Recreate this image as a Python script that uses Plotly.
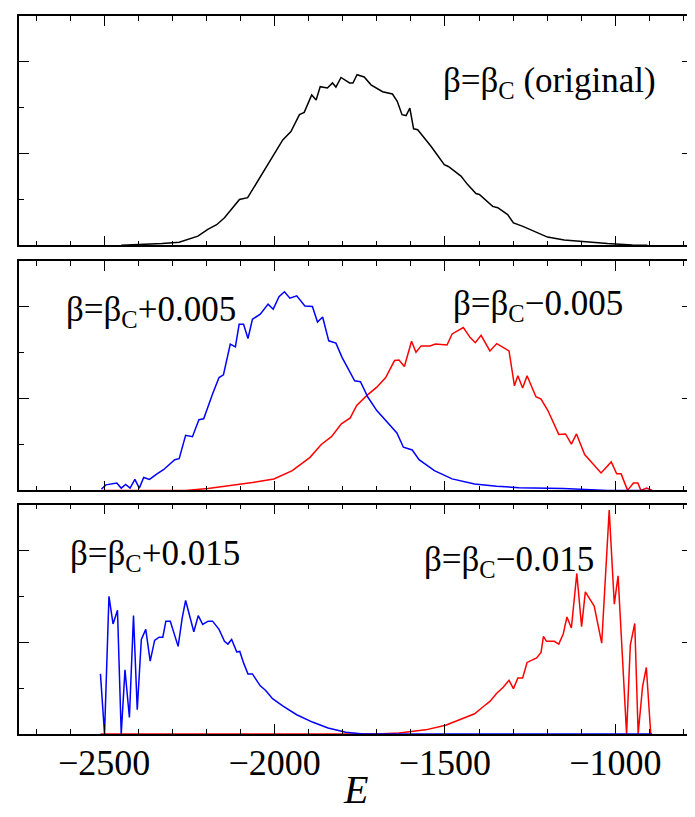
import plotly.graph_objects as go

# ---------------- data ----------------
E_orig = [-2450, -2400, -2330, -2280, -2260, -2225, -2196, -2170, -2147, -2128, -2103, -2079,
          -2050, -2020, -1976, -1952, -1927, -1913, -1891, -1878, -1866, -1845, -1830, -1820,
          -1805, -1780, -1770, -1758, -1737, -1717, -1683, -1654, -1640, -1626, -1614, -1603,
          -1592, -1580, -1541, -1502, -1490, -1453, -1434, -1409, -1399, -1360, -1345, -1316,
          -1299, -1273, -1238, -1199, -1150, -1101, -1023, -950, -906]
P_orig = [0.0, 0.01, 0.04, 0.07, 0.12, 0.2, 0.35, 0.45, 0.6, 0.78, 1.0, 1.04,
          1.4, 1.76, 2.3, 2.48, 2.85, 2.9, 3.28, 3.17, 3.46, 3.43, 3.54, 3.45,
          3.66, 3.54, 3.54, 3.72, 3.67, 3.5, 3.35, 3.3, 3.14, 2.85, 2.83, 2.99,
          2.54, 2.52, 2.16, 1.76, 1.72, 1.51, 1.33, 1.13, 1.11, 0.85, 0.82, 0.67,
          0.49, 0.42, 0.31, 0.18, 0.115, 0.08, 0.04, 0.01, 0.0]

E_p005 = [-2508, -2495, -2463, -2450, -2437, -2424, -2410, -2397, -2384, -2367, -2345, -2326,
          -2293, -2280, -2261, -2241, -2222, -2208, -2182, -2163, -2150, -2130, -2115, -2104,
          -2091, -2078, -2065, -2042, -2019, -2004, -1987, -1971, -1955, -1935, -1911, -1889,
          -1874, -1859, -1841, -1820, -1802, -1765, -1748, -1726, -1700, -1674, -1641, -1622,
          -1596, -1576, -1531, -1479, -1413, -1348, -1283, -1153, -1022, -892]
P_p005 = [0.03, 0.12, 0.16, 0.05, 0.13, 0.05, 0.24, 0.05, 0.28, 0.24, 0.36, 0.45,
          0.67, 0.69, 1.2, 1.17, 1.54, 1.56, 2.1, 2.46, 2.52, 3.19, 3.13, 3.62,
          3.62, 3.31, 3.73, 3.84, 4.06, 3.95, 4.22, 4.33, 4.19, 4.24, 4.02, 4.01,
          3.67, 3.78, 3.26, 3.21, 2.9, 2.39, 2.37, 2.03, 1.74, 1.52, 1.25, 0.94,
          0.88, 0.67, 0.43, 0.25, 0.14, 0.09, 0.06, 0.04, 0.0, 0.0]

E_m005 = [-2508, -2261, -2195, -2130, -2065, -2002, -1948, -1896, -1863, -1833, -1804, -1778,
          -1759, -1729, -1700, -1674, -1648, -1635, -1619, -1598, -1585, -1570, -1544, -1528,
          -1494, -1479, -1472, -1446, -1426, -1411, -1394, -1368, -1348, -1312, -1296, -1286,
          -1272, -1259, -1233, -1218, -1198, -1166, -1146, -1129, -1114, -1090, -1042, -1012,
          -996, -983, -964, -947, -934, -925, -908, -892]
P_m005 = [0.0, 0.0, 0.04, 0.1, 0.17, 0.25, 0.43, 0.72, 1.0, 1.17, 1.45, 1.58,
          1.85, 2.07, 2.25, 2.46, 2.83, 2.84, 2.7, 3.25, 3.01, 3.15, 3.15, 3.19,
          3.17, 3.41, 3.44, 3.55, 3.33, 3.22, 3.38, 3.04, 3.2, 3.04, 2.28, 2.5,
          2.23, 2.5, 2.04, 1.99, 1.74, 1.22, 1.23, 1.01, 1.23, 0.78, 0.38, 0.62,
          0.36, 0.36, 0.0, 0.16, 0.16, 0.0, 0.05, 0.0]

E_p015 = [-2511, -2499, -2486, -2474, -2461, -2450, -2439, -2426, -2414, -2403, -2391, -2378,
          -2365, -2352, -2339, -2328, -2319, -2306, -2283, -2271, -2261, -2237, -2224, -2211,
          -2195, -2182, -2163, -2147, -2137, -2126, -2111, -2102, -2091, -2078, -2065, -2042,
          -2026, -2006, -1974, -1935, -1889, -1843, -1791, -1739, -1700, -892]
P_p015 = [1.31, 0.0, 3.0, 2.4, 2.7, 0.0, 1.4, 0.36, 2.58, 0.53, 2.06, 2.28,
          1.59, 2.04, 2.11, 2.11, 2.46, 2.46, 1.91, 2.53, 2.91, 2.23, 2.58, 2.39,
          2.46, 2.46, 2.28, 2.02, 1.96, 2.06, 1.79, 1.8, 1.55, 1.31, 1.31, 1.05,
          0.95, 0.77, 0.6, 0.42, 0.26, 0.13, 0.04, 0.0, 0.0, 0.0]

E_m015 = [-2511, -1700, -1635, -1557, -1498, -1446, -1413, -1387, -1368, -1348, -1329, -1312,
          -1299, -1286, -1272, -1259, -1244, -1231, -1218, -1211, -1202, -1179, -1166, -1153,
          -1142, -1129, -1113, -1099, -1088, -1062, -1040, -1018, -1003, -992, -967, -956,
          -943, -933, -920, -909, -896]
P_m015 = [0.0, 0.0, 0.02, 0.09, 0.19, 0.35, 0.44, 0.6, 0.71, 0.89, 1.02, 1.17,
          0.99, 1.22, 1.22, 1.56, 1.62, 1.66, 1.78, 2.13, 2.02, 2.02, 1.96, 2.18,
          2.55, 2.31, 3.5, 2.34, 3.1, 2.79, 1.98, 4.88, 2.83, 3.45, 0.0, 1.94,
          2.41, 0.0, 1.04, 1.45, 0.0]

x_ticks = [-2500, -2000, -1500, -1000]
x_range = [-2750, -775]
y_range = [0, 5]

labels = {
    "orig": "β=β<sub>C</sub> (original)",
    "p005": "β=β<sub>C</sub>+0.005",
    "m005": "β=β<sub>C</sub>−0.005",
    "p015": "β=β<sub>C</sub>+0.015",
    "m015": "β=β<sub>C</sub>−0.015",
}

# ---------------- figure ----------------
FONT = "Liberation Serif"
BLUE = "#0000ff"
RED = "#ff0000"
LW = 1.5

fig = go.Figure()
fig.add_trace(go.Scatter(x=E_orig, y=P_orig, mode="lines", line=dict(color="black", width=LW),
                         xaxis="x", yaxis="y", showlegend=False))
fig.add_trace(go.Scatter(x=E_m005, y=P_m005, mode="lines", line=dict(color=RED, width=LW),
                         xaxis="x2", yaxis="y2", showlegend=False))
fig.add_trace(go.Scatter(x=E_p005, y=P_p005, mode="lines", line=dict(color=BLUE, width=LW),
                         xaxis="x2", yaxis="y2", showlegend=False))
fig.add_trace(go.Scatter(x=E_m015, y=P_m015, mode="lines", line=dict(color=RED, width=LW),
                         xaxis="x3", yaxis="y3", showlegend=False))
fig.add_trace(go.Scatter(x=E_p015, y=P_p015, mode="lines", line=dict(color=BLUE, width=LW),
                         xaxis="x3", yaxis="y3", showlegend=False))

H_PLOT = 720.0
doms = [
    [(726 - 236) / H_PLOT, 1.0],
    [(726 - 481.7) / H_PLOT, (726 - 251.7) / H_PLOT],
    [0.0, 230 / H_PLOT],
]


def xaxis(dom_y_anchor, labels_on):
    return dict(
        range=x_range, anchor=dom_y_anchor, domain=[0, 1],
        tickvals=x_ticks, ticks="inside", ticklen=10, tickwidth=1.2, tickcolor="black",
        minor=dict(dtick=100, tick0=-2700, ticks="inside", ticklen=5, tickwidth=1.2,
                   tickcolor="black", showgrid=False),
        showline=True, linecolor="black", linewidth=1.6, mirror="allticks",
        showgrid=False, zeroline=False, showticklabels=labels_on,
        tickfont=dict(family=FONT, size=36, color="black"),
        ticklabelstandoff=-4,
    )


def yaxis(dom, xanchor):
    return dict(
        range=y_range, domain=dom, anchor=xanchor,
        tickvals=[0, 2, 4], ticks="inside", ticklen=10, tickwidth=1.2, tickcolor="black",
        minor=dict(dtick=1, tick0=0, ticks="inside", ticklen=5, tickwidth=1.2,
                   tickcolor="black", showgrid=False),
        showline=True, linecolor="black", linewidth=1.6, mirror="allticks",
        showgrid=False, zeroline=False, showticklabels=False,
    )


fig.update_layout(
    width=695, height=817,
    margin=dict(l=11, r=11, t=6, b=91),
    paper_bgcolor="white", plot_bgcolor="white",
    xaxis=xaxis("y", False), yaxis=yaxis(doms[0], "x"),
    xaxis2=xaxis("y2", False), yaxis2=yaxis(doms[1], "x2"),
    xaxis3=xaxis("y3", True), yaxis3=yaxis(doms[2], "x3"),
    font=dict(family=FONT, color="black"),
)

ann_font = dict(family=FONT, size=35, color="black")
fig.add_annotation(x=-1512, y=3.55, xref="x", yref="y", text=labels["orig"], showarrow=False,
                   xanchor="left", yanchor="middle", font=ann_font)
fig.add_annotation(x=-2618, y=3.91, xref="x2", yref="y2", text=labels["p005"], showarrow=False,
                   xanchor="left", yanchor="middle", font=ann_font)
fig.add_annotation(x=-1482, y=4.02, xref="x2", yref="y2", text=labels["m005"], showarrow=False,
                   xanchor="left", yanchor="middle", font=ann_font)
fig.add_annotation(x=-2606, y=3.9, xref="x3", yref="y3", text=labels["p015"], showarrow=False,
                   xanchor="left", yanchor="middle", font=ann_font)
fig.add_annotation(x=-1566, y=3.75, xref="x3", yref="y3", text=labels["m015"], showarrow=False,
                   xanchor="left", yanchor="middle", font=ann_font)
fig.add_annotation(x=0.5, y=(726 - 806) / H_PLOT, xref="paper", yref="paper", text="<i>E</i>",
                   showarrow=False, xanchor="center", yanchor="bottom",
                   font=dict(family=FONT, size=40, color="black"))

fig.write_html("out.html")
